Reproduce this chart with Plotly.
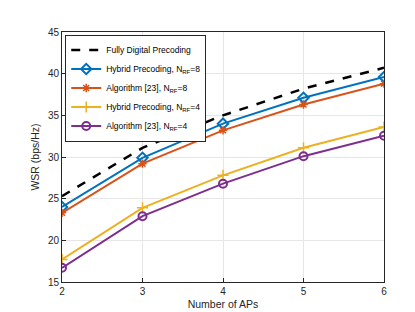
import plotly.graph_objects as go

x_aps = [2, 3, 4, 5, 6]
fully_digital = [25.3, 31.1, 35.0, 38.2, 40.7]
hybrid_8 = [24.0, 29.9, 34.0, 37.1, 39.6]
alg23_8 = [23.3, 29.2, 33.2, 36.3, 38.8]
hybrid_4 = [17.7, 23.9, 27.8, 31.1, 33.6]
alg23_4 = [16.7, 22.9, 26.8, 30.1, 32.55]

names = ["Fully Digital Precoding",
         "Hybrid Precoding, N<sub>RF</sub>=8",
         "Algorithm [23], N<sub>RF</sub>=8",
         "Hybrid Precoding, N<sub>RF</sub>=4",
         "Algorithm [23], N<sub>RF</sub>=4"]

fig = go.Figure()
fig.add_trace(go.Scatter(x=x_aps, y=fully_digital, name=names[0], mode="lines",
                         line=dict(color="black", width=2.5, dash="dash")))
fig.add_trace(go.Scatter(x=x_aps, y=hybrid_8, name=names[1], mode="lines+markers",
                         line=dict(color="#0072BD", width=2),
                         marker=dict(symbol="diamond-open", size=8, line=dict(width=2, color="#0072BD"))))
fig.add_trace(go.Scatter(x=x_aps, y=alg23_8, name=names[2], mode="lines+markers",
                         line=dict(color="#D95319", width=2),
                         marker=dict(symbol="asterisk-open", size=7, line=dict(width=1.5, color="#D95319"))))
fig.add_trace(go.Scatter(x=x_aps, y=hybrid_4, name=names[3], mode="lines+markers",
                         line=dict(color="#EDB120", width=2),
                         marker=dict(symbol="cross-thin-open", size=8, line=dict(width=1.5, color="#EDB120"))))
fig.add_trace(go.Scatter(x=x_aps, y=alg23_4, name=names[4], mode="lines+markers",
                         line=dict(color="#7E2F8E", width=2),
                         marker=dict(symbol="circle-open", size=8, line=dict(width=2, color="#7E2F8E"))))

axis_common = dict(showline=True, linecolor="#262626", linewidth=1, mirror=True,
                   showgrid=True, gridcolor="#E6E6E6", gridwidth=1,
                   ticks="inside", ticklen=4, tickcolor="#262626",
                   tickfont=dict(family="Liberation Sans, Arial", size=10, color="#262626"),
                   zeroline=False)

fig.update_layout(
    width=415, height=312,
    margin=dict(l=54, r=39, t=24, b=34),
    paper_bgcolor="white", plot_bgcolor="white",
    font=dict(family="Liberation Sans, Arial", color="#262626"),
    xaxis=dict(range=[2, 6], tickvals=[2, 3, 4, 5, 6],
               title=dict(text="Number of APs", font=dict(size=10.5), standoff=4),
               **axis_common),
    yaxis=dict(range=[15, 45], tickvals=[15, 20, 25, 30, 35, 40, 45],
               title=dict(text="WSR (bps/Hz)", font=dict(size=10.5), standoff=6),
               **axis_common),
    legend=dict(x=0.01, y=0.99, xanchor="left", yanchor="top",
                bgcolor="white", bordercolor="#262626", borderwidth=1,
                font=dict(size=8.5, color="black"), tracegroupgap=0,
                itemwidth=30),
    showlegend=True,
)

fig.write_html("out.html")
